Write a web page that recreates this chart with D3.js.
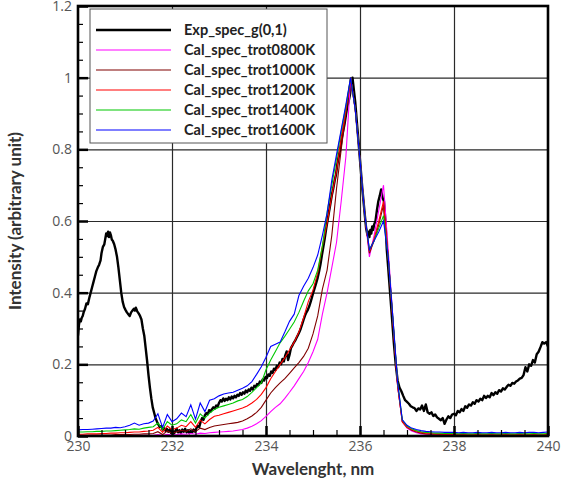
<!DOCTYPE html>
<html>
<head>
<meta charset="utf-8">
<script src="https://cdn.jsdelivr.net/npm/d3@7"></script>
<style>
  body { margin: 0; background: #fff; }
  svg { display: block; }
  .tick text { font-family: "Open Sans", "Noto Sans", sans-serif; font-size: 14px; fill: #555; }
</style>
</head>
<body>
<div id="chart"></div>
<script>
// axis ticks
const xMajor = [230, 232, 234, 236, 238, 240];
const xMinor = [230.5, 231, 231.5, 232.5, 233, 233.5, 234.5, 235, 235.5, 236.5, 237, 237.5, 238.5, 239, 239.5];
const yMajor = [0, 0.2, 0.4, 0.6, 0.8, 1, 1.2];
const yMinor = [0.05, 0.1, 0.15, 0.25, 0.3, 0.35, 0.45, 0.5, 0.55, 0.65, 0.7, 0.75, 0.85, 0.9, 0.95, 1.05, 1.1, 1.15];

// measured spectrum [wavelength, intensity]
const expSpec = [
  [230.00, 0.28], [230.02, 0.31], [230.04, 0.325], [230.06, 0.32], [230.08, 0.33], [230.10, 0.335],
  [230.12, 0.345], [230.15, 0.355], [230.18, 0.37], [230.21, 0.368], [230.24, 0.385], [230.27, 0.40],
  [230.30, 0.415], [230.33, 0.43], [230.36, 0.445], [230.39, 0.46], [230.42, 0.47], [230.45, 0.478],
  [230.48, 0.49], [230.50, 0.51], [230.53, 0.528], [230.56, 0.535], [230.58, 0.55], [230.60, 0.565],
  [230.62, 0.558], [230.64, 0.57], [230.66, 0.555], [230.68, 0.568], [230.70, 0.56], [230.72, 0.548],
  [230.74, 0.545], [230.77, 0.535], [230.80, 0.52], [230.83, 0.50], [230.86, 0.47], [230.89, 0.435],
  [230.92, 0.40], [230.95, 0.375], [230.98, 0.36], [231.01, 0.352], [231.04, 0.345], [231.07, 0.34],
  [231.10, 0.335], [231.13, 0.345], [231.16, 0.35], [231.19, 0.355], [231.21, 0.35], [231.23, 0.358],
  [231.26, 0.348], [231.29, 0.342], [231.32, 0.335], [231.35, 0.325], [231.38, 0.30], [231.41, 0.28],
  [231.44, 0.245], [231.47, 0.21], [231.50, 0.17], [231.53, 0.135], [231.56, 0.105], [231.59, 0.08],
  [231.62, 0.065], [231.65, 0.05], [231.68, 0.04], [231.71, 0.032], [231.74, 0.025], [231.77, 0.028],
  [231.80, 0.018], [231.83, 0.022], [231.86, 0.015], [231.89, 0.02], [231.92, 0.012], [231.95, 0.018],
  [231.98, 0.008], [232.01, 0.015], [232.04, 0.006], [232.07, 0.014], [232.10, 0.02], [232.13, 0.01],
  [232.16, 0.016], [232.19, 0.008], [232.22, 0.018], [232.25, 0.012], [232.28, 0.02], [232.31, 0.01],
  [232.34, 0.016], [232.37, 0.008], [232.40, 0.014], [232.43, 0.01], [232.46, 0.018], [232.49, 0.012],
  [232.52, 0.022], [232.55, 0.028], [232.58, 0.025], [232.61, 0.04], [232.64, 0.05], [232.67, 0.045],
  [232.70, 0.058], [232.73, 0.064], [232.76, 0.06], [232.79, 0.072], [232.82, 0.068], [232.85, 0.075],
  [232.88, 0.08], [232.91, 0.077], [232.94, 0.085], [232.97, 0.082], [233.00, 0.092], [233.03, 0.10],
  [233.06, 0.096], [233.09, 0.105], [233.12, 0.098], [233.15, 0.104], [233.18, 0.10], [233.21, 0.108],
  [233.24, 0.102], [233.27, 0.11], [233.30, 0.105], [233.33, 0.112], [233.36, 0.108], [233.39, 0.115],
  [233.42, 0.112], [233.45, 0.12], [233.48, 0.115], [233.51, 0.122], [233.54, 0.118], [233.57, 0.127],
  [233.60, 0.122], [233.63, 0.13], [233.66, 0.126], [233.69, 0.135], [233.72, 0.13], [233.75, 0.14],
  [233.78, 0.137], [233.81, 0.145], [233.84, 0.142], [233.87, 0.152], [233.90, 0.148], [233.93, 0.158],
  [233.96, 0.155], [233.99, 0.165], [234.02, 0.162], [234.05, 0.172], [234.08, 0.168], [234.11, 0.18],
  [234.14, 0.176], [234.17, 0.188], [234.20, 0.184], [234.23, 0.196], [234.26, 0.192], [234.29, 0.205],
  [234.32, 0.20], [234.35, 0.215], [234.38, 0.208], [234.41, 0.225], [234.44, 0.236], [234.47, 0.212],
  [234.50, 0.226], [234.53, 0.245], [234.56, 0.252], [234.59, 0.26], [234.62, 0.266], [234.65, 0.274],
  [234.68, 0.282], [234.71, 0.29], [234.74, 0.30], [234.77, 0.312], [234.80, 0.325], [234.83, 0.336],
  [234.86, 0.345], [234.89, 0.352], [234.92, 0.362], [234.95, 0.374], [234.98, 0.388], [235.01, 0.402],
  [235.04, 0.415], [235.07, 0.428], [235.10, 0.442], [235.13, 0.46], [235.16, 0.48], [235.19, 0.505],
  [235.22, 0.528], [235.25, 0.552], [235.28, 0.578], [235.31, 0.602], [235.34, 0.625], [235.37, 0.648],
  [235.40, 0.672], [235.43, 0.69], [235.46, 0.712], [235.49, 0.73], [235.52, 0.76], [235.55, 0.782],
  [235.58, 0.80], [235.61, 0.83], [235.64, 0.85], [235.67, 0.87], [235.70, 0.895], [235.73, 0.92],
  [235.76, 0.935], [235.79, 0.955], [235.82, 0.99], [235.84, 1.0], [235.87, 0.965], [235.90, 0.93],
  [235.95, 0.85], [236.00, 0.77], [236.05, 0.69], [236.10, 0.62], [236.13, 0.58], [236.16, 0.56],
  [236.18, 0.57], [236.20, 0.555], [236.22, 0.575], [236.24, 0.565], [236.26, 0.585], [236.28, 0.575],
  [236.30, 0.59], [236.33, 0.60], [236.36, 0.63], [236.39, 0.655], [236.42, 0.67], [236.45, 0.688],
  [236.48, 0.665], [236.51, 0.655], [236.54, 0.60], [236.57, 0.52], [236.60, 0.47], [236.64, 0.40],
  [236.68, 0.33], [236.72, 0.26], [236.76, 0.20], [236.80, 0.155], [236.84, 0.135], [236.88, 0.125],
  [236.92, 0.112], [236.96, 0.10], [237.00, 0.095], [237.04, 0.09], [237.08, 0.083], [237.12, 0.08],
  [237.16, 0.078], [237.20, 0.07], [237.24, 0.077], [237.28, 0.074], [237.32, 0.085], [237.36, 0.07],
  [237.40, 0.088], [237.44, 0.066], [237.48, 0.062], [237.52, 0.066], [237.56, 0.056], [237.60, 0.06],
  [237.64, 0.052], [237.68, 0.048], [237.72, 0.044], [237.76, 0.05], [237.80, 0.034], [237.84, 0.046],
  [237.88, 0.055], [237.92, 0.05], [237.96, 0.06], [238.00, 0.062], [238.04, 0.058], [238.08, 0.07],
  [238.12, 0.066], [238.16, 0.075], [238.20, 0.07], [238.24, 0.083], [238.28, 0.079], [238.32, 0.088],
  [238.36, 0.085], [238.40, 0.094], [238.44, 0.09], [238.48, 0.10], [238.52, 0.096], [238.56, 0.104],
  [238.60, 0.10], [238.64, 0.112], [238.68, 0.106], [238.72, 0.112], [238.76, 0.108], [238.80, 0.12],
  [238.84, 0.114], [238.88, 0.122], [238.92, 0.118], [238.96, 0.128], [239.00, 0.124], [239.04, 0.133],
  [239.08, 0.13], [239.12, 0.137], [239.16, 0.143], [239.20, 0.14], [239.24, 0.148], [239.28, 0.146],
  [239.32, 0.152], [239.36, 0.155], [239.40, 0.16], [239.44, 0.162], [239.48, 0.17], [239.52, 0.192],
  [239.56, 0.18], [239.60, 0.20], [239.64, 0.196], [239.68, 0.212], [239.72, 0.205], [239.76, 0.228],
  [239.80, 0.235], [239.84, 0.248], [239.88, 0.262], [239.92, 0.258], [239.96, 0.262], [240.00, 0.25]
];

// calculated spectra, shared wavelength grid
const calcWl = [
  230.0, 230.1, 230.2, 230.3, 230.4, 230.5, 230.6, 230.7, 230.8, 230.9,
  231.0, 231.1, 231.2, 231.3, 231.4, 231.5, 231.6, 231.7, 231.8, 231.9,
  232.0, 232.1, 232.2, 232.3, 232.4, 232.5, 232.6, 232.7, 232.8, 232.9,
  233.0, 233.1, 233.2, 233.3, 233.4, 233.5, 233.6, 233.7, 233.8, 233.9,
  234.0, 234.1, 234.2, 234.3, 234.4, 234.5, 234.6, 234.7, 234.8, 234.9,
  235.0, 235.1, 235.2, 235.3, 235.4, 235.5, 235.6, 235.7, 235.8, 235.9,
  236.0, 236.1, 236.2, 236.3, 236.4, 236.5, 236.6, 236.7, 236.8, 236.9,
  237.0, 237.1, 237.2, 237.3, 237.4, 237.5, 237.6, 237.7, 237.8, 237.9,
  238.0, 238.1, 238.2, 238.3, 238.4, 238.5, 238.6, 238.7, 238.8, 238.9,
  239.0, 239.1, 239.2, 239.3, 239.4, 239.5, 239.6, 239.7, 239.8, 239.9,
  240.0
];
const cal0800 = [
  .000, .000, .000, .000, .001, .001, .001, .001, .001, .001,
  .001, .001, .002, .002, .002, .002, .002, .004, .002, .005,
  .003, .004, .006, .005, .007, .005, .008, .007, .009, .010,
  .011, .012, .013, .014, .016, .018, .022, .027, .034, .043,
  .055, .068, .080, .090, .105, .122, .140, .160, .180, .205,
  .235, .270, .340, .400, .470, .540, .655, .780, 1.00, .910,
  .770, .620, .500, .560, .630, .700, .520, .330, .140, .040,
  .022, .014, .009, .006, .005, .004, .004, .003, .003, .003,
  .003, .003, .003, .003, .003, .003, .003, .003, .003, .003,
  .003, .003, .003, .003, .003, .003, .003, .003, .003, .003,
  .003
];
const cal1000 = [
  .002, .002, .002, .003, .003, .003, .003, .003, .004, .004,
  .004, .004, .005, .005, .006, .006, .007, .012, .004, .014,
  .008, .011, .016, .013, .020, .012, .022, .018, .024, .028,
  .030, .032, .034, .036, .038, .042, .048, .056, .066, .080,
  .100, .120, .135, .148, .160, .175, .190, .205, .222, .245,
  .285, .335, .410, .463, .560, .690, .800, .900, 1.00, .910,
  .770, .620, .510, .545, .590, .645, .500, .320, .140, .040,
  .024, .016, .011, .008, .006, .005, .005, .004, .004, .004,
  .004, .004, .004, .003, .004, .004, .003, .004, .004, .003,
  .004, .004, .003, .004, .004, .003, .004, .004, .003, .004,
  .004
];
const cal1200 = [
  .005, .005, .006, .006, .006, .007, .007, .008, .008, .009,
  .009, .010, .011, .011, .013, .014, .016, .024, .010, .028,
  .018, .022, .030, .026, .040, .024, .044, .034, .046, .055,
  .058, .062, .066, .070, .074, .078, .084, .092, .102, .116,
  .135, .160, .180, .200, .218, .240, .262, .290, .330, .375,
  .407, .455, .530, .594, .670, .740, .830, .910, 1.00, .910,
  .770, .620, .515, .550, .600, .655, .500, .320, .140, .040,
  .025, .018, .013, .010, .008, .007, .006, .006, .005, .005,
  .005, .005, .005, .005, .004, .005, .005, .004, .005, .005,
  .004, .005, .005, .004, .005, .005, .004, .005, .005, .004,
  .005
];
const cal1400 = [
  .011, .011, .012, .012, .013, .013, .014, .014, .015, .016,
  .017, .018, .020, .019, .022, .024, .026, .036, .018, .040,
  .030, .034, .045, .040, .060, .036, .062, .050, .064, .074,
  .080, .084, .088, .092, .098, .102, .110, .122, .135, .148,
  .185, .212, .236, .260, .278, .298, .318, .345, .376, .405,
  .425, .463, .530, .625, .700, .775, .850, .920, 1.00, .910,
  .770, .620, .520, .545, .580, .615, .500, .330, .150, .045,
  .028, .020, .015, .012, .010, .009, .008, .008, .007, .007,
  .007, .006, .007, .006, .006, .007, .006, .006, .007, .006,
  .006, .007, .006, .006, .007, .006, .006, .007, .006, .006,
  .007
];
const cal1600 = [
  .017, .018, .018, .019, .020, .021, .022, .022, .024, .023,
  .026, .030, .036, .030, .034, .036, .042, .062, .024, .060,
  .040, .048, .064, .054, .087, .047, .092, .068, .100, .104,
  .112, .117, .120, .122, .128, .133, .140, .152, .172, .193,
  .220, .250, .256, .262, .290, .320, .340, .392, .418, .440,
  .470, .505, .560, .622, .714, .785, .855, .925, 1.00, .910,
  .770, .620, .520, .545, .570, .600, .500, .330, .150, .045,
  .030, .022, .018, .015, .013, .012, .011, .011, .010, .010,
  .010, .009, .010, .009, .009, .010, .009, .009, .010, .009,
  .009, .010, .009, .009, .010, .009, .010, .010, .009, .010,
  .011
];

const seriesNames = ["Exp_spec_g(0,1)", "Cal_spec_trot0800K", "Cal_spec_trot1000K",
  "Cal_spec_trot1200K", "Cal_spec_trot1400K", "Cal_spec_trot1600K"];
const seriesColors = ["#000000", "#ff00ff", "#800000", "#ff0000", "#00c800", "#0000ff"];
const calcSeries = [cal0800, cal1000, cal1200, cal1400, cal1600];

const width = 562, height = 485;
const margin = { top: 6, right: 14, bottom: 49, left: 78 };

const svg = d3.select("#chart").append("svg")
  .attr("width", width)
  .attr("height", height);

const x = d3.scaleLinear().domain([230, 240]).range([margin.left, width - margin.right]);
const y = d3.scaleLinear().domain([0, 1.2]).range([height - margin.bottom, margin.top]);
const plotW = width - margin.left - margin.right;
const plotH = height - margin.top - margin.bottom;

svg.append("clipPath").attr("id", "clip")
  .append("rect")
  .attr("x", margin.left).attr("y", margin.top)
  .attr("width", plotW).attr("height", plotH);

// grid lines
svg.append("g")
  .attr("transform", "translate(0," + (height - margin.bottom) + ")")
  .call(d3.axisBottom(x).tickValues(xMajor.slice(1, -1)).tickSize(-plotH).tickFormat(""))
  .call(g => g.select(".domain").remove())
  .call(g => g.selectAll("line").attr("stroke", "#2a2a2a").attr("stroke-width", 1.2));

svg.append("g")
  .attr("transform", "translate(" + margin.left + ",0)")
  .call(d3.axisLeft(y).tickValues(yMajor.slice(1, -1)).tickSize(-plotW).tickFormat(""))
  .call(g => g.select(".domain").remove())
  .call(g => g.selectAll("line").attr("stroke", "#2a2a2a").attr("stroke-width", 1.2));

// lines
const line = d3.line().x(d => x(d[0])).y(d => y(d[1]));
const lines = svg.append("g").attr("clip-path", "url(#clip)");

lines.append("path")
  .attr("d", line(expSpec))
  .attr("fill", "none")
  .attr("stroke", seriesColors[0])
  .attr("stroke-width", 2.4)
  .attr("stroke-linejoin", "round");

calcSeries.forEach((vals, i) => {
  lines.append("path")
    .attr("d", line(calcWl.map((w, j) => [w, vals[j]])))
    .attr("fill", "none")
    .attr("stroke", seriesColors[i + 1])
    .attr("stroke-width", 1.1);
});

// minor ticks
svg.append("g")
  .attr("transform", "translate(" + margin.left + ",0)")
  .call(d3.axisLeft(y).tickValues(yMinor).tickSize(-5).tickFormat(""))
  .call(g => g.select(".domain").remove())
  .call(g => g.selectAll("line").attr("stroke", "#000").attr("stroke-width", 1.2));

svg.append("g")
  .attr("transform", "translate(0," + (height - margin.bottom) + ")")
  .call(d3.axisBottom(x).tickValues(xMinor).tickSize(-6).tickFormat(""))
  .call(g => g.select(".domain").remove())
  .call(g => g.selectAll("line").attr("stroke", "#000").attr("stroke-width", 1.2));

// major ticks and labels
svg.append("g")
  .attr("transform", "translate(" + margin.left + ",0)")
  .call(d3.axisLeft(y).tickValues(yMajor).tickSize(-10).tickPadding(6).tickFormat(d3.format("~g")))
  .call(g => g.select(".domain").remove())
  .call(g => g.selectAll("line").attr("stroke", "#000").attr("stroke-width", 2.5));

svg.append("g")
  .attr("transform", "translate(0," + (height - margin.bottom) + ")")
  .call(d3.axisBottom(x).tickValues(xMajor).tickSize(-10).tickPadding(5).tickFormat(d3.format("d")))
  .call(g => g.select(".domain").remove())
  .call(g => g.selectAll("line").attr("stroke", "#000").attr("stroke-width", 2.5));

// frame
svg.append("rect")
  .attr("x", margin.left).attr("y", margin.top)
  .attr("width", plotW).attr("height", plotH)
  .attr("fill", "none")
  .attr("stroke", "#000")
  .attr("stroke-width", 2.6);

// axis titles
svg.append("text")
  .attr("x", margin.left + plotW / 2)
  .attr("y", 475)
  .attr("text-anchor", "middle")
  .style("font-family", "Lato, 'Open Sans', sans-serif")
  .style("font-weight", "bold")
  .style("font-size", "17px")
  .style("fill", "#333")
  .text("Wavelenght, nm");

svg.append("text")
  .attr("transform", "translate(21," + (margin.top + plotH / 2) + ") rotate(-90)")
  .attr("text-anchor", "middle")
  .style("font-family", "Lato, 'Open Sans', sans-serif")
  .style("font-weight", "bold")
  .style("font-size", "17px")
  .style("fill", "#333")
  .text("Intensity (arbitrary unit)");

// legend
const legend = svg.append("g").attr("transform", "translate(90,9)");
legend.append("rect")
  .attr("width", 237).attr("height", 134)
  .attr("fill", "#fff")
  .attr("stroke", "#555")
  .attr("stroke-width", 1);

seriesNames.forEach((name, i) => {
  const row = legend.append("g").attr("transform", "translate(0," + (21 + i * 20) + ")");
  row.append("line")
    .attr("x1", 6).attr("x2", 81)
    .attr("stroke", seriesColors[i])
    .attr("stroke-width", i === 0 ? 2.4 : 1.1);
  row.append("text")
    .attr("x", 94).attr("dy", "0.35em")
    .style("font-family", "Lato, 'Open Sans', sans-serif")
    .style("font-weight", "bold")
    .style("font-size", "14.5px")
    .style("fill", "#222")
    .text(name);
});
</script>
</body>
</html>
